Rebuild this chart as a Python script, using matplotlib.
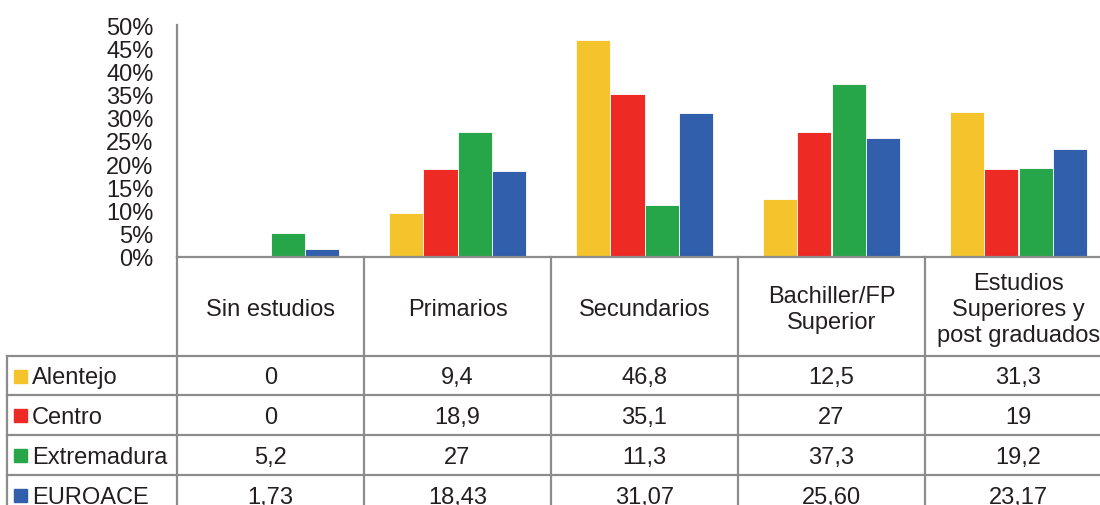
import matplotlib
matplotlib.use("Agg")
import matplotlib.pyplot as plt
from matplotlib.lines import Line2D
from matplotlib.patches import Rectangle
import numpy as np

plt.rcParams['font.family'] = ['Liberation Sans', 'DejaVu Sans']

categories = ["Sin estudios", "Primarios", "Secundarios", "Bachiller/FP\nSuperior",
              "Estudios\nSuperiores y\npost graduados"]
series = ["Alentejo", "Centro", "Extremadura", "EUROACE"]
alentejo = [0, 9.4, 46.8, 12.5, 31.3]
centro = [0, 18.9, 35.1, 27, 19]
extremadura = [5.2, 27, 11.3, 37.3, 19.2]
euroace = [1.73, 18.43, 31.07, 25.60, 23.17]
table_text = [
    ["0", "9,4", "46,8", "12,5", "31,3"],
    ["0", "18,9", "35,1", "27", "19"],
    ["5,2", "27", "11,3", "37,3", "19,2"],
    ["1,73", "18,43", "31,07", "25,60", "23,17"],
]
yticks = [0, 5, 10, 15, 20, 25, 30, 35, 40, 45, 50]
ytick_labels = [f"{t}%" for t in yticks]
colors = ["#F5C32B", "#EE2A25", "#26A649", "#315FAB"]
values = [alentejo, centro, extremadura, euroace]

W, H = 1100, 506
fig = plt.figure(figsize=(W / 100, H / 100), dpi=100)

def fx(px):
    return px / W

def fy(py):
    return 1 - py / H

grid_c = "#8C8C8C"
txt_c = "#231F20"
lw = 1.6

# axes geometry in pixels
ax_left, ax_top, ax_bottom = 177, 26, 258
cat_w = 187
ax = fig.add_axes([fx(ax_left), fy(ax_bottom), fx(cat_w * 5), (ax_bottom - ax_top) / H])
x = np.arange(len(categories))
bw = 0.182
for i, (vals, col) in enumerate(zip(values, colors)):
    ax.bar(x + (i - 1.5) * bw, vals, width=bw, color=col, edgecolor="white", linewidth=0.6, zorder=2)
ax.set_xlim(-0.5, 4.5)
ax.set_ylim(0, 50)
ax.set_yticks(yticks)
ax.set_yticklabels(ytick_labels, fontsize=17, color=txt_c)
ax.set_xticks([])
ax.tick_params(axis="y", length=0, pad=17)
for s in ["top", "right"]:
    ax.spines[s].set_visible(False)
ax.spines["left"].set_color(grid_c)
ax.spines["bottom"].set_color(grid_c)
ax.spines["left"].set_linewidth(lw)
ax.spines["bottom"].set_linewidth(lw)

# table
row_lines = [357, 396, 436, 476, 516]
table_left = 7
bottom_px = 520
for k in range(6):
    xp = ax_left + k * cat_w
    fig.add_artist(Line2D([fx(xp), fx(xp)], [fy(ax_bottom), fy(bottom_px)], color=grid_c, lw=lw))
fig.add_artist(Line2D([fx(table_left), fx(table_left)], [fy(row_lines[0]), fy(bottom_px)], color=grid_c, lw=lw))
for yp in row_lines:
    fig.add_artist(Line2D([fx(table_left), fx(ax_left + 5 * cat_w)], [fy(yp), fy(yp)], color=grid_c, lw=lw))

fs = 17
# header
for k, cat in enumerate(categories):
    cx = ax_left + (k + 0.5) * cat_w
    fig.text(fx(cx), fy(310), cat, ha="center", va="center", fontsize=fs, color=txt_c,
             linespacing=1.24, multialignment="center")

# rows
for r, name in enumerate(series):
    cy = (row_lines[r] + row_lines[r + 1]) / 2 + 2
    fig.add_artist(Rectangle((fx(14), fy(cy + 5)), fx(13), 13 / H, color=colors[r],
                             transform=fig.transFigure))
    fig.text(fx(32), fy(cy), name, ha="left", va="center", fontsize=fs, color=txt_c)
    for k in range(5):
        cx = ax_left + (k + 0.5) * cat_w
        fig.text(fx(cx), fy(cy), table_text[r][k], ha="center", va="center", fontsize=fs, color=txt_c)

fig.savefig("out.png", dpi=100)
